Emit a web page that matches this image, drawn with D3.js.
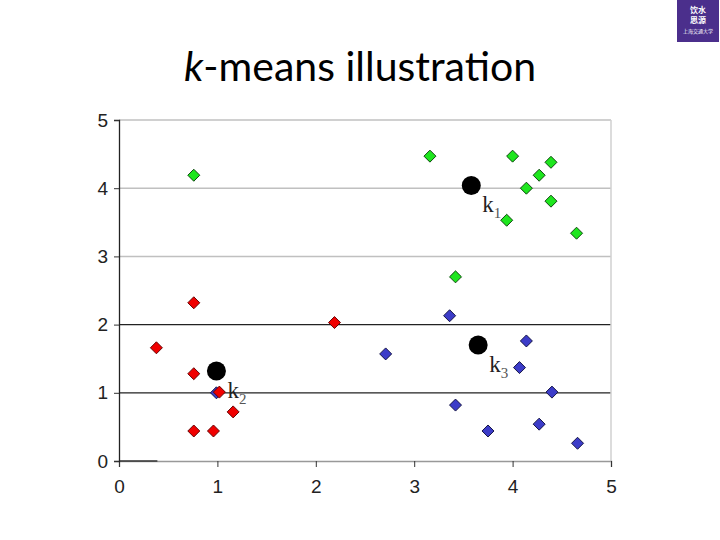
<!DOCTYPE html>
<html>
<head>
<meta charset="utf-8">
<script src="https://cdn.jsdelivr.net/npm/d3@7"></script>
<style>
  body { margin: 0; background: #fff; }
  svg { display: block; }
</style>
</head>
<body>
<div id="chart"></div>
<script>
// data
let ticks = [0, 1, 2, 3, 4, 5];

let greenX = [0.76, 3.16, 4.00, 4.39, 4.27, 4.14, 4.39, 3.94, 4.65, 3.42];
let greenY = [4.19, 4.47, 4.47, 4.38, 4.19, 4.00, 3.81, 3.53, 3.34, 2.70];

let redX = [0.76, 0.38, 0.76, 1.02, 1.16, 0.76, 0.96, 2.19];
let redY = [2.32, 1.66, 1.28, 1.01, 0.72, 0.44, 0.44, 2.03];

let blueX = [0.99, 3.36, 2.71, 4.14, 4.07, 4.40, 3.42, 3.75, 4.27, 4.66];
let blueY = [1.00, 2.13, 1.57, 1.76, 1.37, 1.01, 0.82, 0.44, 0.54, 0.26];

let centerNames = ["1", "2", "3"];
let centerX = [3.58, 0.99, 3.65];
let centerY = [4.04, 1.32, 1.70];

let logoLines = ["饮水", "思源", "上海交通大学"];

let width = 720, height = 540;

let svg = d3.select("#chart").append("svg")
    .attr("width", width)
    .attr("height", height);

// title
let title = svg.append("text")
    .attr("x", 360)
    .attr("y", 81)
    .attr("text-anchor", "middle")
    .attr("font-family", "Lato, 'Open Sans', sans-serif")
    .attr("font-size", 41)
    .attr("fill", "#000");
title.append("tspan").attr("font-style", "italic").text("k");
title.append("tspan").text("-means illustration");

// logo box
svg.append("rect")
    .attr("x", 677).attr("y", 0)
    .attr("width", 42).attr("height", 42)
    .attr("fill", "#4b2f8c");
svg.selectAll(".logo")
    .data(logoLines)
    .enter().append("text")
    .attr("x", 698)
    .attr("y", (d, i) => [13, 23, 33][i])
    .attr("text-anchor", "middle")
    .attr("font-family", "'Noto Sans CJK SC'")
    .attr("font-size", (d, i) => i < 2 ? 8 : 5)
    .attr("font-weight", (d, i) => i < 2 ? "bold" : "normal")
    .attr("fill", "#fff")
    .text(d => d);

let x = d3.scaleLinear().domain([0, 5]).range([119, 611]);
let y = d3.scaleLinear().domain([0, 5]).range([461, 120]);

let g = svg.append("g");

// gridlines: top ones grey, lower ones dark
g.selectAll(".grid")
    .data(ticks.filter(d => d > 0))
    .enter().append("line")
    .attr("x1", x(0)).attr("x2", x(5))
    .attr("y1", d => y(d)).attr("y2", d => y(d))
    .attr("stroke", d => d >= 3 ? "#c0c0c0" : "#222")
    .attr("stroke-width", d => d >= 3 ? 1.5 : 1.2);

// right border
g.append("line")
    .attr("x1", x(5)).attr("x2", x(5))
    .attr("y1", y(5)).attr("y2", y(0))
    .attr("stroke", "#d0d0d0")
    .attr("stroke-width", 1.5);

// x axis
let xAxis = g.append("g")
    .attr("transform", `translate(0,${y(0)})`)
    .call(d3.axisBottom(x).tickValues(ticks).tickSize(6).tickPadding(13).tickFormat(d3.format("d")));
xAxis.select(".domain").attr("stroke", "#999").attr("stroke-width", 1.5);
xAxis.selectAll(".tick line").attr("stroke", "#333");
xAxis.selectAll("text")
    .style("font-family", "'Liberation Sans', Arial, sans-serif")
    .style("font-size", "19px").attr("fill", "#222");
// darker start of the axis line
g.append("line")
    .attr("x1", x(0)).attr("x2", x(0.39))
    .attr("y1", y(0)).attr("y2", y(0))
    .attr("stroke", "#333").attr("stroke-width", 1.5);

// y axis
let yAxis = g.append("g")
    .attr("transform", `translate(${x(0)},0)`)
    .call(d3.axisLeft(y).tickValues(ticks).tickSize(5).tickPadding(6).tickFormat(d3.format("d")));
yAxis.select(".domain").attr("stroke", "#222").attr("stroke-width", 1.3);
yAxis.selectAll(".tick line").attr("stroke", "#333");
yAxis.selectAll("text")
    .style("font-family", "'Liberation Sans', Arial, sans-serif")
    .style("font-size", "19px").attr("fill", "#222");

let diamond = d3.symbol().type(d3.symbolSquare).size(72);

function drawPoints(xs, ys, fill, stroke) {
    g.append("g").selectAll("path")
        .data(d3.range(xs.length))
        .enter().append("path")
        .attr("d", diamond)
        .attr("transform", i => `translate(${x(xs[i])},${y(ys[i])}) rotate(45)`)
        .attr("fill", fill)
        .attr("stroke", stroke)
        .attr("stroke-width", 0.9);
}

drawPoints(blueX, blueY, "#3c3cc8", "#101040");
drawPoints(redX, redY, "#f00000", "#600000");
drawPoints(greenX, greenY, "#1ee61e", "#0a400a");

// centroids
g.selectAll(".center")
    .data(d3.range(centerX.length))
    .enter().append("circle")
    .attr("cx", i => x(centerX[i]))
    .attr("cy", i => y(centerY[i]))
    .attr("r", 9.5)
    .attr("fill", "#000");

let labels = g.selectAll(".klabel")
    .data(d3.range(centerX.length))
    .enter().append("text")
    .attr("x", i => x(centerX[i]) + 11)
    .attr("y", i => y(centerY[i]) + 27)
    .attr("font-family", "'Liberation Serif', 'Times New Roman', serif")
    .attr("font-size", 23)
    .attr("fill", "#222");
labels.append("tspan").text("k");
labels.append("tspan")
    .attr("font-size", 15)
    .attr("dy", 6)
    .attr("fill", "#555")
    .text(i => centerNames[i]);
</script>
</body>
</html>
